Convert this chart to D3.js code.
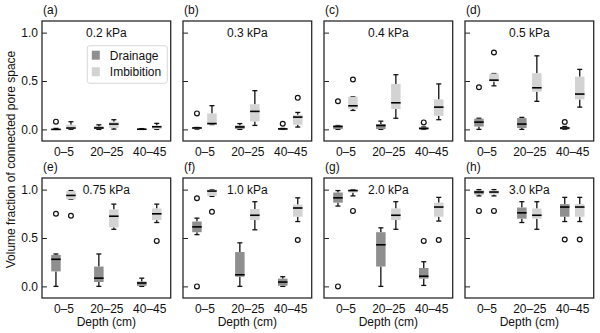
<!DOCTYPE html>
<html><head><meta charset="utf-8">
<script src="https://cdn.jsdelivr.net/npm/d3@7"></script>
<style>
body{margin:0;background:#fff;}
svg{display:block;font-family:"Liberation Sans",Arial,sans-serif;}
</style></head>
<body><svg id="c" width="600" height="333"></svg>
<script>
const pressures = ["0.2 kPa","0.3 kPa","0.4 kPa","0.5 kPa","0.75 kPa","1.0 kPa","2.0 kPa","3.0 kPa"];
const panelLetters = ["(a)","(b)","(c)","(d)","(e)","(f)","(g)","(h)"];
const depths = ["0–5","20–25","40–45"];
const seriesNames = ["Drainage","Imbibition"];
const seriesColors = ["#8f8f8f","#d3d3d3"];
const yTicks = [0, 0.5, 1.0];

// [low whisker, q1, median, q3, high whisker] per depth, per panel
const drainageStats = [
  [[0,0,0,0.005,0.01],[0,0.005,0.015,0.03,0.047],[0,0,0.002,0.005,0.008]],
  [[0.003,0.005,0.015,0.02,0.02],[0,0.005,0.025,0.04,0.06],[0,0,0.005,0.01,0.01]],
  [[0,0.003,0.03,0.04,0.04],[0,0.003,0.04,0.055,0.085],[0,0,0.01,0.02,0.025]],
  [[0,0.03,0.075,0.11,0.115],[0,0.014,0.055,0.117,0.124],[0,0,0.014,0.025,0.03]],
  [[0,0.155,0.28,0.325,0.335],[0,0.045,0.085,0.205,0.335],[0,0.005,0.035,0.05,0.085]],
  [[0.535,0.56,0.615,0.67,0.705],[0,0.10,0.12,0.355,0.45],[0,0.007,0.045,0.08,0.10]],
  [[0.83,0.865,0.915,0.97,0.99],[0,0.205,0.43,0.56,0.605],[0.01,0.08,0.105,0.19,0.255]],
  [[0.935,0.95,0.975,0.99,1.0],[0.66,0.70,0.76,0.815,0.875],[0.67,0.72,0.82,0.85,0.92]]
];
const drainageOutliers = [
  [[0.08],[],[]],
  [[0.165],[],[0.058]],
  [[0.29],[],[0.072]],
  [[0.435],[],[0.076]],
  [[0.75],[],[]],
  [[0.91,0],[],[]],
  [[0],[],[0.47]],
  [[0.78],[],[0.485]]
];
const imbibitionStats = [
  [[0,0.003,0.014,0.048,0.079],[0.003,0.014,0.055,0.079,0.10],[0,0.003,0.027,0.041,0.062]],
  [[0.05,0.05,0.06,0.165,0.245],[0.041,0.082,0.186,0.26,0.40],[0.024,0.048,0.127,0.15,0.175]],
  [[0.196,0.213,0.244,0.337,0.337],[0.115,0.21,0.275,0.47,0.565],[0.10,0.14,0.23,0.31,0.47]],
  [[0.45,0.495,0.509,0.577,0.577],[0.29,0.39,0.43,0.58,0.76],[0.23,0.31,0.365,0.545,0.62]],
  [[0.90,0.90,0.94,0.985,0.99],[0.59,0.61,0.725,0.795,0.85],[0.66,0.685,0.75,0.805,0.85]],
  [[0.93,0.935,0.985,1.0,1.0],[0.585,0.685,0.735,0.80,0.875],[0.67,0.72,0.81,0.845,0.915]],
  [[0.935,0.97,0.99,1.0,1.0],[0.59,0.685,0.735,0.805,0.875],[0.675,0.72,0.82,0.865,0.92]],
  [[0.935,0.95,0.975,0.99,1.0],[0.59,0.70,0.735,0.805,0.875],[0.67,0.72,0.82,0.85,0.92]]
];
const imbibitionOutliers = [
  [[],[],[]],
  [[],[],[0.326]],
  [[0.515],[],[]],
  [[0.794],[],[]],
  [[0.73],[],[0.47]],
  [[0.77],[],[0.48]],
  [[0.78],[],[0.48]],
  [[0.78],[],[0.485]]
];

const svg = d3.select("#c");
const panelW = 128.7, panelH = 120;
const lefts = [42, 183, 324, 465];
const tops = [21, 178];
const boxW = 9.5, capW = 5, offset = 7.5;

const x = d3.scalePoint().domain(depths).range([0, panelW]).padding(0.5);
const sOff = d3.scaleOrdinal().domain(seriesNames).range([-offset, offset]);
const y = d3.scaleLinear().domain([-0.12, 1.12]).range([panelH, 0]);
const color = d3.scaleOrdinal().domain(seriesNames).range(seriesColors);

const allStats = [drainageStats, imbibitionStats];
const allOut = [drainageOutliers, imbibitionOutliers];

pressures.forEach((p, pi) => {
  const col = pi % 4, row = Math.floor(pi / 4);
  const g = svg.append("g").attr("transform", `translate(${lefts[col]},${tops[row]})`);

  // y axis (inward ticks)
  const ya = d3.axisLeft(y).tickValues(yTicks).tickSizeInner(-5).tickSizeOuter(0).tickPadding(4)
    .tickFormat(col === 0 ? d3.format(".1f") : () => "");
  const yg = g.append("g").call(ya);
  yg.select(".domain").remove();
  yg.selectAll("line").attr("stroke", "#222").attr("stroke-width", 1);
  yg.selectAll("text").attr("font-size", 12).attr("fill", "#111").style("font-family", "Liberation Sans, Arial, sans-serif");

  // x axis
  const xa = d3.axisBottom(x).tickSize(0).tickPadding(6);
  const xg = g.append("g").attr("transform", `translate(0,${panelH})`).call(xa);
  xg.select(".domain").remove();
  xg.selectAll("text").attr("font-size", 12).attr("fill", "#111").style("font-family", "Liberation Sans, Arial, sans-serif");

  // boxes
  seriesNames.forEach((s, si) => {
    depths.forEach((d, di) => {
      const st = allStats[si][pi][di];
      const cx = x(d) + sOff(s);
      const bg = g.append("g");
      bg.append("line").attr("x1", cx).attr("x2", cx).attr("y1", y(st[0])).attr("y2", y(st[1]))
        .attr("stroke", "#111").attr("stroke-width", 1.3);
      bg.append("line").attr("x1", cx).attr("x2", cx).attr("y1", y(st[3])).attr("y2", y(st[4]))
        .attr("stroke", "#111").attr("stroke-width", 1.3);
      [st[0], st[4]].forEach(v => {
        bg.append("line").attr("x1", cx - capW / 2).attr("x2", cx + capW / 2).attr("y1", y(v)).attr("y2", y(v))
          .attr("stroke", "#111").attr("stroke-width", 1.3);
      });
      bg.append("rect").attr("x", cx - boxW / 2).attr("width", boxW)
        .attr("y", y(st[3])).attr("height", Math.max(1.2, y(st[1]) - y(st[3])))
        .attr("fill", color(s));
      bg.append("line").attr("x1", cx - boxW / 2).attr("x2", cx + boxW / 2).attr("y1", y(st[2])).attr("y2", y(st[2]))
        .attr("stroke", "#000").attr("stroke-width", 1.6);
      allOut[si][pi][di].forEach(v => {
        bg.append("circle").attr("cx", cx).attr("cy", y(v)).attr("r", 2.4)
          .attr("fill", "none").attr("stroke", "#111").attr("stroke-width", 1.2);
      });
    });
  });

  g.append("rect").attr("width", panelW).attr("height", panelH)
    .attr("fill", "none").attr("stroke", "#2a2a2a").attr("stroke-width", 1.3);

  g.append("text").attr("x", panelW / 2).attr("y", 16).attr("text-anchor", "middle")
    .attr("font-size", 12).attr("fill", "#111").text(p);
  g.append("text").attr("x", 1).attr("y", -7).attr("font-size", 12).attr("fill", "#111").text(panelLetters[pi]);

  if (row === 1) {
    g.append("text").attr("x", panelW / 2).attr("y", panelH + 28).attr("text-anchor", "middle")
      .attr("font-size", 12).attr("fill", "#111").text("Depth (cm)");
  }

  if (pi === 0) {
    const lg = g.append("g").attr("transform", "translate(45.3,24.7)");
    lg.append("rect").attr("width", 80).attr("height", 37.6).attr("rx", 2.5)
      .attr("fill", "#fff").attr("fill-opacity", 0.8).attr("stroke", "#d8d8d8").attr("stroke-width", 1);
    seriesNames.forEach((s, si) => {
      lg.append("rect").attr("x", 4.5).attr("y", 5 + si * 16.5).attr("width", 8).attr("height", 9)
        .attr("fill", color(s));
      lg.append("text").attr("x", 22.5).attr("y", 14.2 + si * 16.5).attr("font-size", 12)
        .attr("fill", "#111").text(s);
    });
  }
});

svg.append("text").attr("transform", "translate(15,159.5) rotate(-90)").attr("text-anchor", "middle")
  .attr("font-size", 12).attr("fill", "#111").text("Volume fraction of connected pore space");
</script>
</body></html>
